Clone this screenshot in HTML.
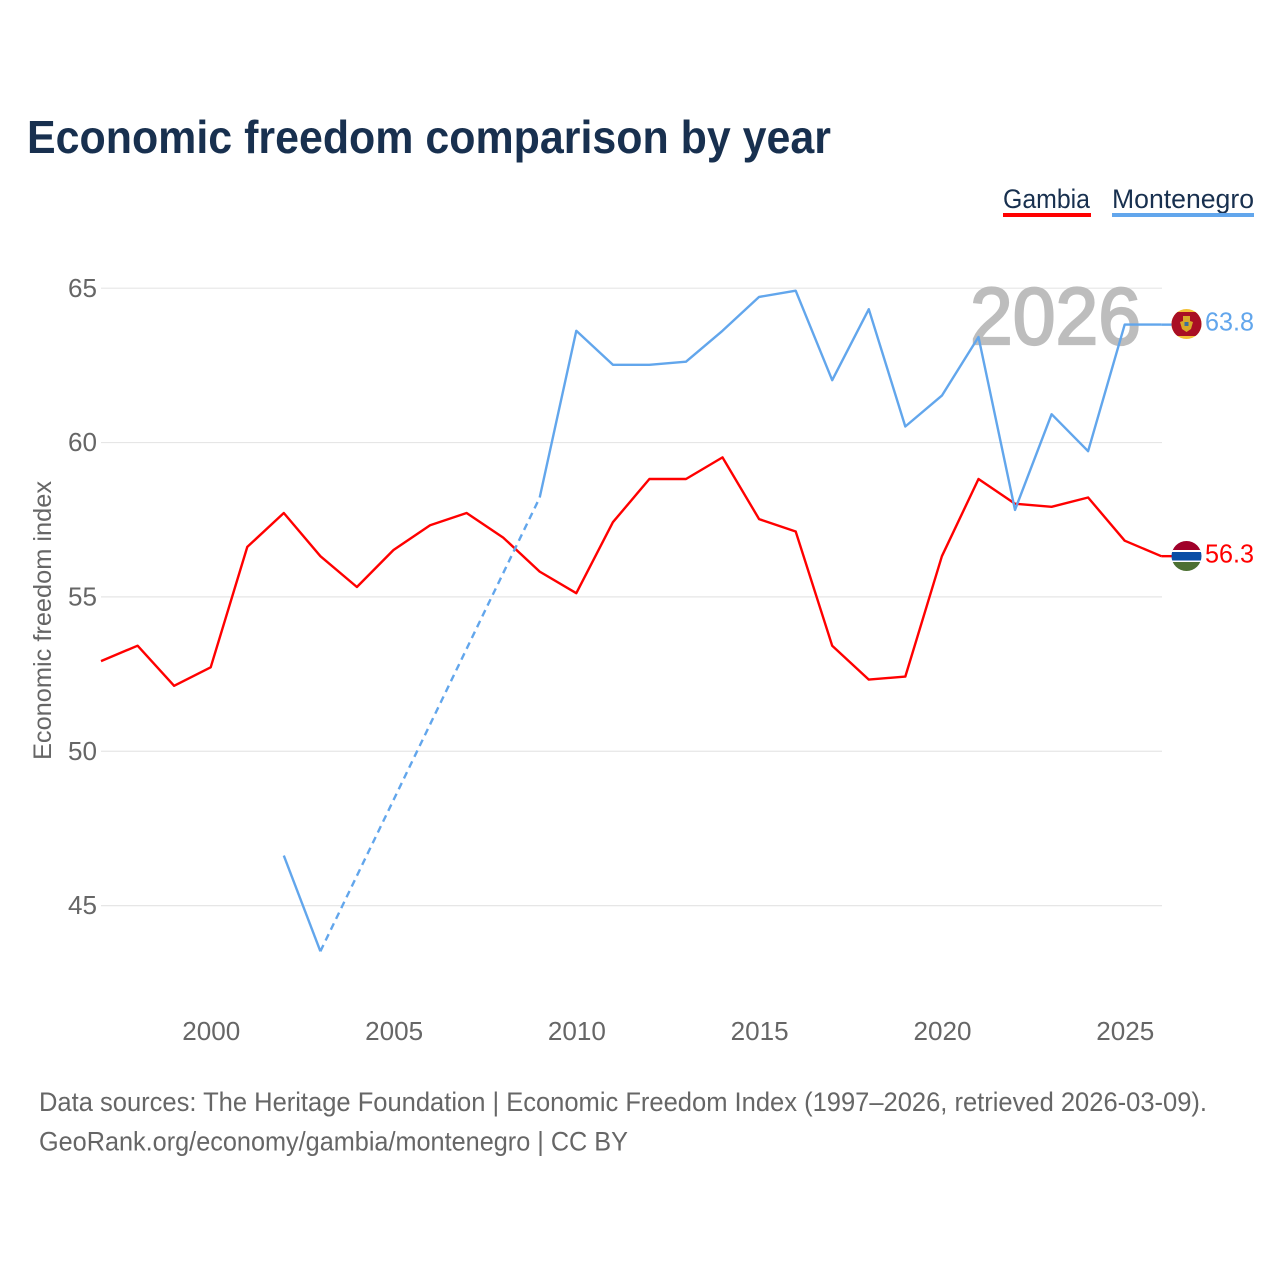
<!DOCTYPE html>
<html lang="en">
<head>
<meta charset="utf-8">
<title>Economic freedom comparison by year</title>
<style>
html,body{margin:0;padding:0;background:#fff;}
svg{display:block;}
text{font-family:"Liberation Sans",sans-serif;}
</style>
</head>
<body>
<svg id="chart" xmlns="http://www.w3.org/2000/svg" width="1280" height="1280" viewBox="0 0 1280 1280">
  <defs>
    <clipPath id="flag-clip-me"><circle cx="1186.5" cy="324" r="15"/></clipPath>
    <clipPath id="flag-clip-gm"><circle cx="1186.5" cy="556" r="15"/></clipPath>
  </defs>
  <rect width="1280" height="1280" fill="#fff"/>
  <text x="27" y="153" font-size="46" font-weight="700" fill="#18304f" textLength="804" lengthAdjust="spacingAndGlyphs">Economic freedom comparison by year</text>
  <g>
    <text x="1003" y="208" font-size="27" fill="#18304f" textLength="87" lengthAdjust="spacingAndGlyphs">Gambia</text>
    <rect x="1003" y="213" width="88" height="4" fill="#ff0000"/>
    <text x="1112" y="208" font-size="27" fill="#18304f" textLength="142" lengthAdjust="spacingAndGlyphs">Montenegro</text>
    <rect x="1112" y="213" width="142" height="4" fill="#62a6ec"/>
  </g>
  <g id="grid"></g>
  <text x="970" y="344" font-size="81" font-weight="400" fill="#bdbdbd" stroke="#bdbdbd" stroke-width="2.2" textLength="171" lengthAdjust="spacingAndGlyphs">2026</text>
  <g id="y-ticks"></g>
  <g id="x-ticks"></g>
  <text transform="translate(51 620.5) rotate(-90)" text-anchor="middle" font-size="25" fill="#666" textLength="279" lengthAdjust="spacingAndGlyphs">Economic freedom index</text>
  <g id="series"></g>
  <g clip-path="url(#flag-clip-me)">
    <rect x="1171" y="309" width="31" height="30" fill="#f2c037"/>
    <rect x="1171" y="312" width="31" height="24" fill="#a90f24"/>
    <path d="M1183 316 L1190 316 L1190 321 L1193 322 L1191 329 L1186.5 332 L1182 329 L1180 322 L1183 321 Z" fill="#d7a928"/>
    <rect x="1184.5" y="322" width="4" height="4" fill="#3a6f9e"/>
  </g>
  <g clip-path="url(#flag-clip-gm)">
    <rect x="1171" y="541" width="31" height="10" fill="#a0002a"/>
    <rect x="1171" y="550" width="31" height="2" fill="#fff"/>
    <rect x="1171" y="552" width="31" height="8.5" fill="#0a4ea6"/>
    <rect x="1171" y="560.5" width="31" height="2" fill="#fff"/>
    <rect x="1171" y="562" width="31" height="9" fill="#4c7032"/>
  </g>
  <text x="1205" y="330.5" font-size="26" fill="#62a6ec" textLength="49" lengthAdjust="spacingAndGlyphs">63.8</text>
  <text x="1205" y="562.5" font-size="26" fill="#ff0000" textLength="49" lengthAdjust="spacingAndGlyphs">56.3</text>
  <text x="39" y="1111" font-size="27" fill="#666" textLength="1168" lengthAdjust="spacingAndGlyphs">Data sources: The Heritage Foundation | Economic Freedom Index (1997–2026, retrieved 2026-03-09).</text>
  <text x="39" y="1150.5" font-size="27" fill="#666" textLength="589" lengthAdjust="spacingAndGlyphs">GeoRank.org/economy/gambia/montenegro | CC BY</text>
</svg>
<script>
var years = [1997,1998,1999,2000,2001,2002,2003,2004,2005,2006,2007,2008,2009,2010,2011,2012,2013,2014,2015,2016,2017,2018,2019,2020,2021,2022,2023,2024,2025,2026];
var gambia = [52.9,53.4,52.1,52.7,56.6,57.7,56.3,55.3,56.5,57.3,57.7,56.9,55.8,55.1,57.4,58.8,58.8,59.5,57.5,57.1,53.4,52.3,52.4,56.3,58.8,58.0,57.9,58.2,56.8,56.3];
var montenegro = [null,null,null,null,null,46.6,43.5,null,null,null,null,null,58.2,63.6,62.5,62.5,62.6,63.6,64.7,64.9,62.0,64.3,60.5,61.5,63.4,57.8,60.9,59.7,63.8,63.8];
var yTicks = [45,50,55,60,65];
var xTicks = [2000,2005,2010,2015,2020,2025];

var NS = 'http://www.w3.org/2000/svg';
function xScale(v){ return 210.7 + (v - 2000) * 36.56; }
function yScale(v){ return 287.6 + (65 - v) * 30.87; }
function make(tag, parent, attrs){
  var el = document.createElementNS(NS, tag);
  for (var k in attrs) el.setAttribute(k, attrs[k]);
  parent.appendChild(el);
  return el;
}
var grid = document.getElementById('grid');
var yG = document.getElementById('y-ticks');
var xG = document.getElementById('x-ticks');
var sG = document.getElementById('series');

yTicks.forEach(function(t){
  var y = yScale(t);
  var line = make('line', grid, {x1:101, x2:1162, y1:y + 0.6, y2:y + 0.6, stroke:'#e6e6e6', 'stroke-width':1.2});
  
  
  var lab = make('text', yG, {x:97, y:y + 9.2, 'text-anchor':'end', 'font-size':25.5, fill:'#666', textLength:29, lengthAdjust:'spacingAndGlyphs'});
  lab.textContent = t;
  
  
});
xTicks.forEach(function(t){
  var lab = make('text', xG, {x:xScale(t) + 0.6, y:1040, 'text-anchor':'middle', 'font-size':25.5, fill:'#666', textLength:58, lengthAdjust:'spacingAndGlyphs'});
  lab.textContent = t;
  
  
});

function drawSeries(values, color, name){
  var segs = [], cur = [], prev = null;
  values.forEach(function(v, i){
    if (v === null) {
      if (cur.length) segs.push(cur);
      cur = [];
      return;
    }
    if (prev !== null && i - prev > 1) {
      var gap = make('line', sG, {x1:xScale(years[prev]), y1:yScale(values[prev]), x2:xScale(years[i]), y2:yScale(v), stroke:color, 'stroke-width':2.4, 'stroke-dasharray':'7 5'});
      
      
    }
    cur.push(xScale(years[i]).toFixed(1) + ',' + yScale(v).toFixed(1));
    prev = i;
  });
  if (cur.length) segs.push(cur);
  segs.forEach(function(seg, n){
    var p = make('polyline', sG, {points:seg.join(' '), fill:'none', stroke:color, 'stroke-width':2.4, 'stroke-linejoin':'round'});
    
    
  });
  var lastY = yScale(values[values.length - 1]);
  var lead = make('line', sG, {x1:xScale(years[years.length - 1]), y1:lastY, x2:1172, y2:lastY, stroke:color, 'stroke-width':2.4});
  
  
}
drawSeries(gambia, '#ff0000', 'gambia');
drawSeries(montenegro, '#62a6ec', 'montenegro');
</script>
</body>
</html>
